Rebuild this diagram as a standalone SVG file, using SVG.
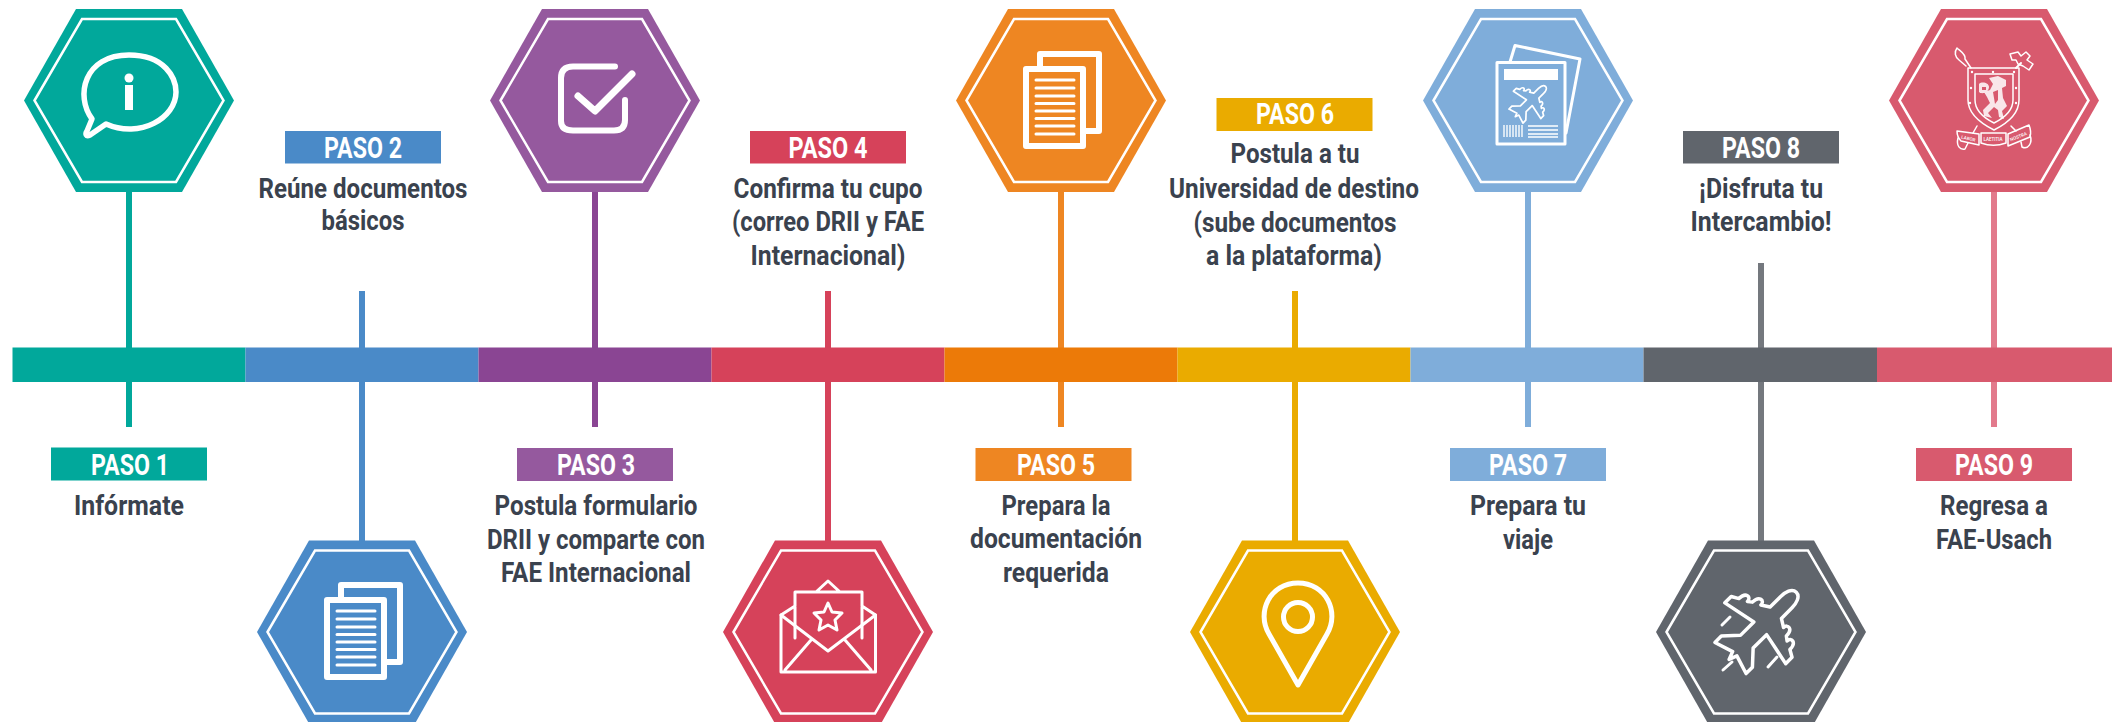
<svg xmlns="http://www.w3.org/2000/svg" width="2112" height="722" viewBox="0 0 2112 722">
<style>
text{font-family:"Roboto","Liberation Sans",sans-serif;text-anchor:middle}
.t{font-size:27px;font-weight:700;fill:#3a424e}
.p{font-size:29px;font-weight:700;fill:#fff}
.c{font-size:4.500px;font-weight:500;fill:#fff}
.i{fill:none;stroke:#fff;stroke-width:2.5;stroke-linejoin:miter}
.w{fill:none;stroke:#fff;stroke-linecap:round;stroke-linejoin:round}
</style>
<defs>
<polygon id="hexo" points="-105,0 -53,-91.5 53,-91.5 105,0 53,91.5 -53,91.5"/>
<polygon id="hexi" class="i" points="-94.5,0 -47,-81.5 47,-81.5 94.5,0 47,81.5 -47,81.5"/>
<g id="docs" class="w">
<path d="M-21,-35V-47H38V30H24" stroke-width="6" stroke-linecap="butt"/>
<rect x="-35" y="-32" width="57" height="77" stroke-width="6"/>
<path d="M-25,-21H13M-25,-13H13M-25,-5H13M-25,2.500H13M-25,10H13M-25,17.500H13M-25,25H13M-25,33H13" stroke-width="3"/>
</g>
<path id="plane" d="M0,-52C6,-52 8,-44 8,-38V-23L16,-18C16,-24 24,-24 24,-14L28,-11C28,-17 36,-17 36,-7L43,-3V6L9,-1V18L22,32V41L3,35L0,43L-3,35L-22,41V32L-9,18V-1L-43,6V-3L-36,-7C-36,-17 -28,-17 -28,-11L-24,-14C-24,-24 -16,-24 -16,-18L-8,-23V-38C-8,-44 -6,-52 0,-52Z"/>
</defs>
<g id="connectors" fill="none" stroke-width="6">
<path stroke="#01a89b" d="M129,190V427"/>
<path stroke="#4a8ac8" d="M362,291V541"/>
<path stroke="#8a4593" d="M595,190V427"/>
<path stroke="#d6425a" d="M828,291V541"/>
<path stroke="#ee8622" d="M1061,190V427"/>
<path stroke="#eaab00" d="M1295,291V552"/>
<path stroke="#7fadda" d="M1528,190V427"/>
<path stroke="#74787e" d="M1761,263V541"/>
<path stroke="#e27a8c" d="M1994,190V427"/>
</g>
<g id="timeline">
<rect x="12.500" y="347.500" width="233" height="34.500" fill="#01a89b"/>
<rect x="245.500" y="347.500" width="233" height="34.500" fill="#4a8ac8"/>
<rect x="478.500" y="347.500" width="233" height="34.500" fill="#8a4593"/>
<rect x="711.500" y="347.500" width="233" height="34.500" fill="#d6425a"/>
<rect x="944.500" y="347.500" width="233" height="34.500" fill="#ec7a08"/>
<rect x="1177.500" y="347.500" width="233" height="34.500" fill="#eaab00"/>
<rect x="1410.500" y="347.500" width="233" height="34.500" fill="#7fadda"/>
<rect x="1643.500" y="347.500" width="233.500" height="34.500" fill="#60656c"/>
<rect x="1877" y="347.500" width="235" height="34.500" fill="#d85a6e"/>
</g>
<g id="paso1">
<use href="#hexo" x="129" y="100.500" fill="#01a89b"/><use href="#hexi" x="129" y="100.500"/>
<path class="w" stroke-width="5.500" d="M92,119C75,96 84,55 129,55C165,55 176,78 176,92C176,118 140,139 106,124L90,135C86,137 85,134 87,131Z"/>
<circle cx="129" cy="78" r="4.500" fill="#fff"/><rect x="125" y="85" width="8" height="25" fill="#fff"/>
<rect x="51" y="447.500" width="156" height="33" fill="#01a89b"/>
<text class="p" x="130" y="475" textLength="78" lengthAdjust="spacingAndGlyphs">PASO 1</text>
<text class="t" x="129" y="515" textLength="110" lengthAdjust="spacingAndGlyphs">Infórmate</text>
</g>
<g id="paso2">
<use href="#hexo" x="362" y="632" fill="#4a8ac8"/><use href="#hexi" x="362" y="632"/>
<use href="#docs" x="362" y="632"/>
<rect x="285" y="131" width="156" height="32.500" fill="#4a8ac8"/>
<text class="p" x="363" y="157.500" textLength="78" lengthAdjust="spacingAndGlyphs">PASO 2</text>
<text class="t" x="363" y="198" textLength="209" lengthAdjust="spacingAndGlyphs">Reúne documentos</text>
<text class="t" x="363" y="230" textLength="83" lengthAdjust="spacingAndGlyphs">básicos</text>
</g>
<g id="paso3">
<use href="#hexo" x="595" y="100.500" fill="#95599e"/><use href="#hexi" x="595" y="100.500"/>
<path class="w" stroke-width="6" d="M615,66.500H573Q561,66.500 561,78V121Q561,130.500 573,130.500H614Q625,130.500 625,120V100"/>
<path class="w" stroke-width="7" d="M578,96L595,111L632,74"/>
<rect x="517" y="448" width="156" height="33" fill="#95599e"/>
<text class="p" x="596" y="475" textLength="78" lengthAdjust="spacingAndGlyphs">PASO 3</text>
<text class="t" x="596" y="515" textLength="203" lengthAdjust="spacingAndGlyphs">Postula formulario</text>
<text class="t" x="596" y="549" textLength="218" lengthAdjust="spacingAndGlyphs">DRII y comparte con</text>
<text class="t" x="596" y="582" textLength="190" lengthAdjust="spacingAndGlyphs">FAE Internacional</text>
</g>
<g id="paso4">
<use href="#hexo" x="828" y="632" fill="#d6425a"/><use href="#hexi" x="828" y="632"/>
<g class="w" stroke-width="3">
<path d="M781,615V672H875.500V615M781,615L828,651L875.500,615M785,670L811,640M871,670L845,640"/>
<path d="M795,638V592H862V638M816,592L828,581L840,592M795,606L781,615M862,606L875.500,615"/>
<polygon points="828,603 832,612 842,613 835,620 837,630 828,625 819,630 821,620 814,613 824,612"/>
</g>
<rect x="750" y="131" width="156" height="32.500" fill="#d6425a"/>
<text class="p" x="828" y="157.500" textLength="79" lengthAdjust="spacingAndGlyphs">PASO 4</text>
<text class="t" x="828" y="198" textLength="189" lengthAdjust="spacingAndGlyphs">Confirma tu cupo</text>
<text class="t" x="828" y="231" textLength="192" lengthAdjust="spacingAndGlyphs">(correo DRII y FAE</text>
<text class="t" x="828" y="265" textLength="155" lengthAdjust="spacingAndGlyphs">Internacional)</text>
</g>
<g id="paso5">
<use href="#hexo" x="1061" y="100.500" fill="#ee8622"/><use href="#hexi" x="1061" y="100.500"/>
<use href="#docs" x="1061" y="101"/>
<rect x="975.500" y="448" width="156" height="33" fill="#ee8622"/>
<text class="p" x="1056" y="475" textLength="78" lengthAdjust="spacingAndGlyphs">PASO 5</text>
<text class="t" x="1056" y="515" textLength="109" lengthAdjust="spacingAndGlyphs">Prepara la</text>
<text class="t" x="1056" y="548" textLength="172" lengthAdjust="spacingAndGlyphs">documentación</text>
<text class="t" x="1056" y="582" textLength="106" lengthAdjust="spacingAndGlyphs">requerida</text>
</g>
<g id="paso6">
<use href="#hexo" x="1295" y="632" fill="#eaab00"/><use href="#hexi" x="1295" y="632"/>
<path class="w" stroke-width="5" d="M1298,685L1269,634C1256,612 1270,583 1298,583C1326,583 1340,612 1327,634Z"/>
<circle class="w" stroke-width="5" cx="1298" cy="617" r="14.500"/>
<rect x="1216.500" y="98" width="156" height="33" fill="#eaab00"/>
<text class="p" x="1295" y="124" textLength="78" lengthAdjust="spacingAndGlyphs">PASO 6</text>
<text class="t" x="1295" y="163" textLength="129" lengthAdjust="spacingAndGlyphs">Postula a tu</text>
<text class="t" x="1294" y="198" textLength="250" lengthAdjust="spacingAndGlyphs">Universidad de destino</text>
<text class="t" x="1295" y="232" textLength="203" lengthAdjust="spacingAndGlyphs">(sube documentos</text>
<text class="t" x="1294" y="265" textLength="176" lengthAdjust="spacingAndGlyphs">a la plataforma)</text>
</g>
<g id="paso7">
<use href="#hexo" x="1528" y="100.500" fill="#7fadda"/><use href="#hexi" x="1528" y="100.500"/>
<g class="w" stroke-width="3">
<rect x="1497" y="62.500" width="68" height="81.500"/>
<path d="M1510,62L1515,45.500L1580,59L1566,133"/>
</g>
<rect x="1504" y="69" width="54" height="11" fill="#fff"/>
<use href="#plane" transform="translate(1529 103) rotate(45) scale(.45)" fill="none" stroke="#fff" stroke-width="3.800" stroke-linejoin="round"/>
<path stroke="#fff" stroke-width="1.500" fill="none" opacity=".9" d="M1504,125V137M1507,125V137M1510,125V137M1513,125V137M1516,125V137M1519,125V137M1522,125V137"/>
<path stroke="#fff" stroke-width="1.500" fill="none" d="M1528,126H1558M1528,130H1558M1528,134H1558M1528,137H1558"/>
<rect x="1450" y="448" width="156" height="33" fill="#7fadda"/>
<text class="p" x="1528" y="475" textLength="78" lengthAdjust="spacingAndGlyphs">PASO 7</text>
<text class="t" x="1528" y="515" textLength="116" lengthAdjust="spacingAndGlyphs">Prepara tu</text>
<text class="t" x="1528" y="549" textLength="50" lengthAdjust="spacingAndGlyphs">viaje</text>
</g>
<g id="paso8">
<use href="#hexo" x="1761" y="632" fill="#60656c"/><use href="#hexi" x="1761" y="632"/>
<use href="#plane" transform="translate(1759.500 629) rotate(45)" fill="none" stroke="#fff" stroke-width="3.500" stroke-linejoin="round"/>
<path class="w" stroke-width="3" d="M1722,625L1730,617M1723,670L1732,662M1768,667L1777,657"/>
<rect x="1683" y="131" width="156" height="32.500" fill="#60656c"/>
<text class="p" x="1761" y="157.500" textLength="78" lengthAdjust="spacingAndGlyphs">PASO 8</text>
<text class="t" x="1761" y="198" textLength="124" lengthAdjust="spacingAndGlyphs">¡Disfruta tu</text>
<text class="t" x="1761" y="231" textLength="141" lengthAdjust="spacingAndGlyphs">Intercambio!</text>
</g>
<g id="paso9">
<use href="#hexo" x="1994" y="100.500" fill="#d85a6e"/><use href="#hexi" x="1994" y="100.500"/>
<g class="w" stroke-width="1.500">
<path d="M1968,68H2019V100C2019,114 2006,124 1994,130C1982,124 1968,114 1968,100Z"/>
<path d="M1975,74H2013V100C2013,110 2004,118 1994,123C1984,118 1975,110 1975,100Z"/>
<path d="M1966,66L1959,60C1955,57 1954,52 1957,48C1960,51 1966,54 1965,59L1971,68"/>
<path d="M2016,68L2021,63" stroke-width="2"/>
<path d="M2010,54L2018,52L2021,56L2026,52L2030,56L2027,60L2033,64L2029,70L2023,66L2018,64L2016,60L2012,60Z"/>
<path d="M1957,131L1979,134V145L1961,141C1958,138 1957,135 1957,131ZM1981,133H2006V143C1998,146 1989,146 1981,143ZM2008,134L2029,125C2031,130 2031,134 2030,137L2008,146Z"/>
<path d="M1958,138C1956,146 1960,150 1965,149L1968,143M2030,135C2033,143 2028,150 2022,147L2021,142"/>
<path d="M1977,126L1973,133M2011,126L2016,131"/>
</g>
<path fill="#fff" d="M1989,78L1998,76L2006,80L2006,86L2002,88L2003,98L2007,106L2002,111L2004,119L1999,117L1998,110L1994,107L1988,113L1992,118L1984,116L1983,110L1990,103L1987,97L1984,92L1990,90L1993,84ZM1979,84C1982,81 1989,83 1989,87C1989,92 1982,95 1979,92Z" opacity=".85"/>
<path fill="#d85a6e" d="M1993,92L1998,90L1998,100L1995,104ZM1982,87H1986V90H1982Z"/>
<g fill="#fff">
<circle cx="1972" cy="72" r="1.200"/><circle cx="1993" cy="72" r="1.200"/><circle cx="2014" cy="72" r="1.200"/>
<circle cx="1971" cy="88" r="1.200"/><circle cx="1970" cy="103" r="1.200"/><circle cx="2016" cy="88" r="1.200"/><circle cx="2016" cy="103" r="1.200"/>
</g>
<text class="c" transform="translate(1968 140) rotate(12)">LABOR</text>
<text class="c" x="1993" y="141">LAETITIA</text>
<text class="c" transform="translate(2019 138) rotate(-22)">NOSTRA</text>
<rect x="1916" y="448" width="156" height="33" fill="#d85a6e"/>
<text class="p" x="1994" y="475" textLength="78" lengthAdjust="spacingAndGlyphs">PASO 9</text>
<text class="t" x="1994" y="515" textLength="108" lengthAdjust="spacingAndGlyphs">Regresa a</text>
<text class="t" x="1994" y="549" textLength="116" lengthAdjust="spacingAndGlyphs">FAE-Usach</text>
</g>
</svg>
